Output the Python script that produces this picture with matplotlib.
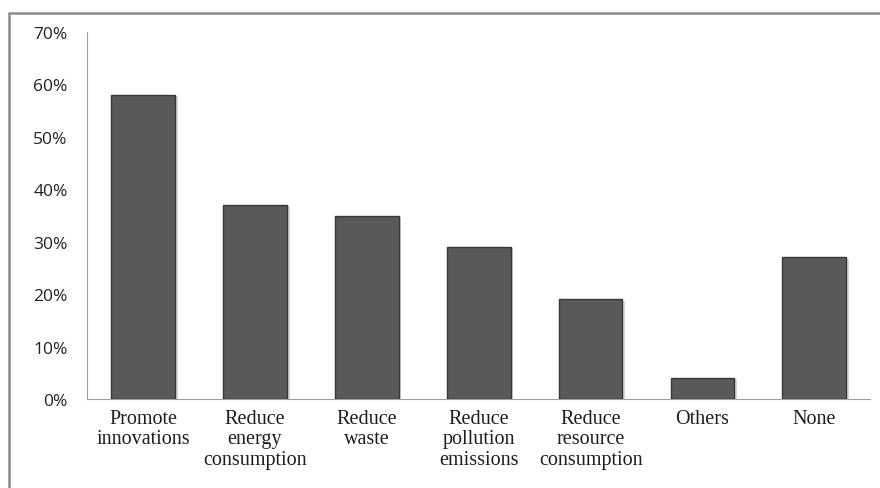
import matplotlib
matplotlib.use("Agg")
import matplotlib.pyplot as plt
import matplotlib.patheffects as pe
from matplotlib.patches import Rectangle
from matplotlib.ticker import PercentFormatter

categories = ["Promote\ninnovations", "Reduce\nenergy\nconsumption", "Reduce\nwaste",
              "Reduce\npollution\nemissions", "Reduce\nresource\nconsumption", "Others", "None"]
values = [58, 37, 35, 29, 19, 4, 27]
y_ticks = [0, 10, 20, 30, 40, 50, 60, 70]

fig = plt.figure(figsize=(8.8, 4.89), dpi=100)
ax = fig.add_axes([0.099, 0.182, 0.890, 0.7505])

# outer frame of the chart area
fig.patches.append(Rectangle((8.5 / 880, -0.05), 1.1, (489 - 13.5) / 489 + 0.05,
                             transform=fig.transFigure, fill=False,
                             edgecolor="#8a8a8a", linewidth=1.8))

x = range(len(categories))
bars = ax.bar(x, values, width=0.57, color="#595959", edgecolor="#383838",
              linewidth=1.0, zorder=3)
for b in bars:
    b.set_path_effects([pe.SimplePatchShadow(offset=(2, -1), shadow_rgbFace="#bdbdbd", alpha=0.6),
                        pe.Normal()])

ax.set_xlim(-0.5, len(categories) - 0.5)
ax.set_ylim(0, 70)
ax.set_yticks(y_ticks)
ax.yaxis.set_major_formatter(PercentFormatter(decimals=0))
ax.set_xticks(list(x))
ax.set_xticklabels(categories, fontfamily="Liberation Serif", fontsize=14.5,
                   linespacing=1.1, color="#1e1e1e")
for lbl in ax.get_yticklabels():
    lbl.set_fontfamily("Open Sans")
    lbl.set_fontsize(12.5)
    lbl.set_color("#222222")

ax.tick_params(axis="both", length=0)
ax.tick_params(axis="x", pad=7)
ax.tick_params(axis="y", pad=14)
for side in ("top", "right"):
    ax.spines[side].set_visible(False)
ax.spines["left"].set_color("#a0a0a0")
ax.spines["bottom"].set_color("#a0a0a0")

fig.savefig("out.png", dpi=100)
